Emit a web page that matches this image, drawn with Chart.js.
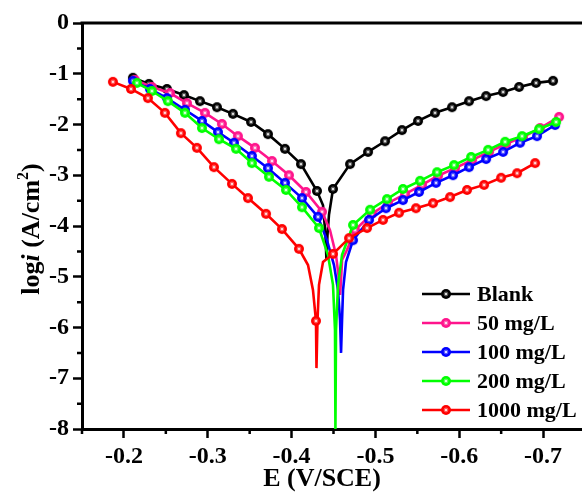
<!DOCTYPE html>
<html>
<head>
<meta charset="utf-8">
<script src="https://cdn.jsdelivr.net/npm/chart.js@4.4.1/dist/chart.umd.min.js"></script>
<style>
html, body { margin: 0; padding: 0; background: #fff; overflow: hidden; }
#wrap { width: 600px; height: 492px; }
</style>
</head>
<body>
<div id="wrap"><canvas id="tafel" width="600" height="492"></canvas></div>
<script>
// series names and colours
const seriesNames = ['Blank', '50 mg/L', '100 mg/L', '200 mg/L', '1000 mg/L'];
const seriesColors = ['#000000', '#ff148c', '#0000ff', '#00ff00', '#ff0000'];

// E (V/SCE), log i (A/cm2), mark: 1 = point with symbol, 0 = bare curve point
const blankE = [-0.2107, -0.2298, -0.2513, -0.2716, -0.2907, -0.3110, -0.3301, -0.3516, -0.3718, -0.3921, -0.4112, -0.4303,
  -0.4375, -0.4404, -0.4416, -0.4428, -0.4446,
  -0.4494, -0.4697, -0.4912, -0.5115, -0.5317, -0.5508, -0.5711, -0.5914, -0.6117, -0.6320, -0.6523, -0.6714, -0.6916, -0.7119];
const blankLog = [-1.08, -1.20, -1.30, -1.42, -1.54, -1.66, -1.79, -1.95, -2.19, -2.48, -2.78, -3.31,
  -3.59, -4.18, -4.67, -4.18, -3.78,
  -3.27, -2.78, -2.54, -2.33, -2.11, -1.93, -1.77, -1.66, -1.54, -1.44, -1.36, -1.26, -1.18, -1.14];
const blankMark = [1,1,1,1,1,1,1,1,1,1,1,1, 0,0,0,0,0, 1,1,1,1,1,1,1,1,1,1,1,1,1,1];

const e50 = [-0.2131, -0.2334, -0.2549, -0.2752, -0.2967, -0.3169, -0.3360, -0.3563, -0.3766, -0.3969, -0.4172, -0.4363,
  -0.4458, -0.4530, -0.4566, -0.4578, -0.4590, -0.4602, -0.4661,
  -0.4757, -0.4959, -0.5150, -0.5353, -0.5556, -0.5747, -0.5950, -0.6153, -0.6356, -0.6558, -0.6761, -0.6964, -0.7191];
const log50 = [-1.12, -1.26, -1.38, -1.58, -1.77, -1.99, -2.23, -2.46, -2.72, -3.00, -3.33, -3.72,
  -4.08, -4.57, -5.06, -5.36, -5.06, -4.67, -4.47,
  -4.08, -3.76, -3.55, -3.37, -3.19, -3.01, -2.86, -2.70, -2.54, -2.38, -2.25, -2.07, -1.85];
const mark50 = [1,1,1,1,1,1,1,1,1,1,1,1, 0,0,0,0,0,0,0, 1,1,1,1,1,1,1,1,1,1,1,1,1];

const e100 = [-0.2107, -0.2310, -0.2513, -0.2728, -0.2931, -0.3122, -0.3313, -0.3527, -0.3718, -0.3921, -0.4124, -0.4315,
  -0.4422, -0.4506, -0.4554, -0.4578, -0.4590, -0.4602, -0.4614, -0.4649,
  -0.4733, -0.4924, -0.5126, -0.5329, -0.5520, -0.5723, -0.5926, -0.6117, -0.6320, -0.6523, -0.6726, -0.6928, -0.7143];
const log100 = [-1.14, -1.30, -1.48, -1.71, -1.93, -2.15, -2.36, -2.62, -2.86, -3.15, -3.45, -3.82,
  -4.28, -4.77, -5.26, -5.85, -6.50, -5.85, -5.26, -4.71,
  -4.28, -3.88, -3.65, -3.49, -3.33, -3.15, -3.00, -2.84, -2.68, -2.54, -2.36, -2.23, -2.01];
const mark100 = [1,1,1,1,1,1,1,1,1,1,1,1, 0,0,0,0,0,0,0,0, 1,1,1,1,1,1,1,1,1,1,1,1,1];

const e200 = [-0.2155, -0.2334, -0.2525, -0.2728, -0.2931, -0.3134, -0.3337, -0.3527, -0.3730, -0.3933, -0.4124, -0.4327,
  -0.4434, -0.4494, -0.4518, -0.4523, -0.4530, -0.4554, -0.4602,
  -0.4733, -0.4936, -0.5138, -0.5329, -0.5532, -0.5735, -0.5938, -0.6141, -0.6344, -0.6547, -0.6749, -0.6952, -0.7155];
const log200 = [-1.18, -1.34, -1.54, -1.77, -2.07, -2.29, -2.48, -2.76, -3.03, -3.29, -3.63, -4.04,
  -4.57, -5.16, -6.05, -8.00, -6.05, -5.16, -4.57,
  -3.98, -3.68, -3.47, -3.27, -3.11, -2.94, -2.80, -2.64, -2.50, -2.34, -2.23, -2.09, -1.95];
const mark200 = [1,1,1,1,1,1,1,1,1,1,1,1, 0,0,0,0,0,0,0, 1,1,1,1,1,1,1,1,1,1,1,1,1];

const e1000 = [-0.1869, -0.2084, -0.2286, -0.2489, -0.2680, -0.2871, -0.3074, -0.3289, -0.3480, -0.3695, -0.3885, -0.4088,
  -0.4196, -0.4255, -0.4291, -0.4297, -0.4309, -0.4327, -0.4375,
  -0.4494, -0.4685, -0.4900, -0.5091, -0.5282, -0.5484, -0.5687, -0.5890, -0.6093, -0.6296, -0.6499, -0.6690, -0.6905];
const log1000 = [-1.16, -1.30, -1.48, -1.77, -2.17, -2.46, -2.84, -3.17, -3.45, -3.76, -4.06, -4.45,
  -4.77, -5.26, -5.87, -6.80, -5.87, -5.16, -4.71,
  -4.55, -4.24, -4.04, -3.88, -3.74, -3.65, -3.55, -3.43, -3.29, -3.19, -3.05, -2.96, -2.76];
const mark1000 = [1,1,1,1,1,1,1,1,1,1,1,1, 0,0,1,0,0,0,0, 1,1,1,1,1,1,1,1,1,1,1,1,1];

// axis ticks
const xTicks = [-0.75, -0.70, -0.65, -0.60, -0.55, -0.50, -0.45, -0.40, -0.35, -0.30, -0.25, -0.20, -0.15];
const yTicks = [-8, -7.5, -7, -6.5, -6, -5.5, -5, -4.5, -4, -3.5, -3, -2.5, -2, -1.5, -1, -0.5, 0];

const allE = [blankE, e50, e100, e200, e1000];
const allLog = [blankLog, log50, log100, log200, log1000];
const allMark = [blankMark, mark50, mark100, mark200, mark1000];

const serif = "'Liberation Serif', 'Times New Roman', serif";

// little ball marker with a white centre
function makeMarker(color) {
    const c = document.createElement('canvas');
    c.width = 12; c.height = 12;
    const g = c.getContext('2d');
    g.beginPath();
    g.arc(6, 6, 5, 0, Math.PI * 2);
    g.fillStyle = color;
    g.fill();
    g.beginPath();
    g.arc(6, 6, 2.4, 0, Math.PI * 2);
    g.fillStyle = 'rgba(255,255,255,0.35)';
    g.fill();
    g.beginPath();
    g.arc(6, 6, 1.1, 0, Math.PI * 2);
    g.fillStyle = '#ffffff';
    g.fill();
    return c;
}
const markers = seriesColors.map(makeMarker);

const isMajorX = v => Math.abs(Math.round(v * 100)) % 10 === 0;
const isMajorY = v => Number.isInteger(v);

const datasets = seriesNames.map((name, i) => ({
    label: name,
    data: allE[i].map((e, k) => ({ x: e, y: allLog[i][k] })),
    borderColor: seriesColors[i],
    backgroundColor: seriesColors[i],
    borderWidth: 2.6,
    showLine: true,
    tension: 0,
    pointStyle: markers[i],
    pointRadius: allMark[i].map(m => m ? 5 : 0),
    pointHoverRadius: allMark[i].map(m => m ? 5 : 0),
    order: 5 - i
}));

// frame, minor ticks, axis titles, legend
const decorPlugin = {
    id: 'decor',
    afterDraw(chart) {
        const { ctx, chartArea: a } = chart;
        const x = chart.scales.x, y = chart.scales.y;
        ctx.save();
        ctx.strokeStyle = '#000';
        ctx.lineWidth = 3;
        ctx.beginPath();
        ctx.moveTo(a.left - 1.5, a.top);
        ctx.lineTo(a.right, a.top);
        ctx.lineTo(a.right, a.bottom);
        ctx.stroke();

        ctx.lineWidth = 2.5;
        ctx.beginPath();
        y.ticks.forEach(t => {
            if (!isMajorY(t.value)) {
                const p = y.getPixelForValue(t.value);
                ctx.moveTo(a.left, p);
                ctx.lineTo(a.left - 5, p);
            }
        });
        x.ticks.forEach(t => {
            if (!isMajorX(t.value)) {
                const p = x.getPixelForValue(t.value);
                ctx.moveTo(p, a.bottom);
                ctx.lineTo(p, a.bottom + 5);
            }
        });
        ctx.stroke();

        // x title
        ctx.fillStyle = '#000';
        ctx.font = 'bold 26px ' + serif;
        ctx.textAlign = 'center';
        ctx.textBaseline = 'alphabetic';
        ctx.fillText('E (V/SCE)', 322, 486);

        // y title: log i (A/cm^2), rotated
        const parts = [
            { t: 'log', f: 'bold 26px ' + serif, dy: 0 },
            { t: 'i', f: 'italic bold 26px ' + serif, dy: 0 },
            { t: ' (A/cm', f: 'bold 26px ' + serif, dy: 0 },
            { t: '2', f: 'bold 16px ' + serif, dy: -11 },
            { t: ')', f: 'bold 26px ' + serif, dy: 0 }
        ];
        let total = 0;
        parts.forEach(p => { ctx.font = p.f; p.w = ctx.measureText(p.t).width; total += p.w; });
        ctx.translate(39, (a.top + a.bottom) / 2 + 3);
        ctx.rotate(-Math.PI / 2);
        ctx.textAlign = 'left';
        let cx = -total / 2;
        parts.forEach(p => { ctx.font = p.f; ctx.fillText(p.t, cx, p.dy); cx += p.w; });
        ctx.setTransform(1, 0, 0, 1, 0, 0);

        // legend
        ctx.font = 'bold 22px ' + serif;
        ctx.textAlign = 'left';
        ctx.textBaseline = 'middle';
        seriesNames.forEach((name, i) => {
            const ly = 294 + i * 29;
            ctx.strokeStyle = seriesColors[i];
            ctx.lineWidth = 2.6;
            ctx.beginPath();
            ctx.moveTo(422, ly);
            ctx.lineTo(470, ly);
            ctx.stroke();
            ctx.drawImage(markers[i], 446 - 6, ly - 6);
            ctx.fillStyle = '#000';
            ctx.fillText(name, 477, ly + 1);
        });
        ctx.restore();
    }
};

new Chart(document.getElementById('tafel'), {
    type: 'scatter',
    data: { datasets: datasets },
    options: {
        responsive: false,
        animation: false,
        events: [],
        devicePixelRatio: 1,
        layout: { padding: { top: 23, right: 15, left: 0, bottom: 0 } },
        plugins: { legend: { display: false }, tooltip: { enabled: false } },
        scales: {
            x: {
                type: 'linear',
                reverse: true,
                min: -0.75,
                max: -0.15,
                afterBuildTicks: s => { s.ticks = xTicks.map(v => ({ value: v })); },
                afterFit: s => { s.height = 63; },
                border: { display: true, color: '#000', width: 3 },
                grid: {
                    drawOnChartArea: false,
                    drawTicks: true,
                    tickLength: 9,
                    tickWidth: 2.5,
                    tickColor: c => (c.tick && isMajorX(c.tick.value)) ? '#000' : 'rgba(0,0,0,0)'
                },
                ticks: {
                    autoSkip: false,
                    maxRotation: 0,
                    padding: 4,
                    color: '#000',
                    font: { family: serif, size: 24, weight: 'bold' },
                    callback: v => isMajorX(v) ? v.toFixed(1) : ''
                }
            },
            y: {
                type: 'linear',
                min: -8,
                max: 0,
                afterBuildTicks: s => { s.ticks = yTicks.map(v => ({ value: v })); },
                afterFit: s => { s.width = 82; },
                border: { display: true, color: '#000', width: 3 },
                grid: {
                    drawOnChartArea: false,
                    drawTicks: true,
                    tickLength: 9,
                    tickWidth: 2.5,
                    tickColor: c => (c.tick && isMajorY(c.tick.value)) ? '#000' : 'rgba(0,0,0,0)'
                },
                ticks: {
                    autoSkip: false,
                    padding: 4,
                    color: '#000',
                    font: { family: serif, size: 24, weight: 'bold' },
                    callback: v => isMajorY(v) ? String(v) : ''
                }
            }
        }
    },
    plugins: [decorPlugin]
});
</script>
</body>
</html>
